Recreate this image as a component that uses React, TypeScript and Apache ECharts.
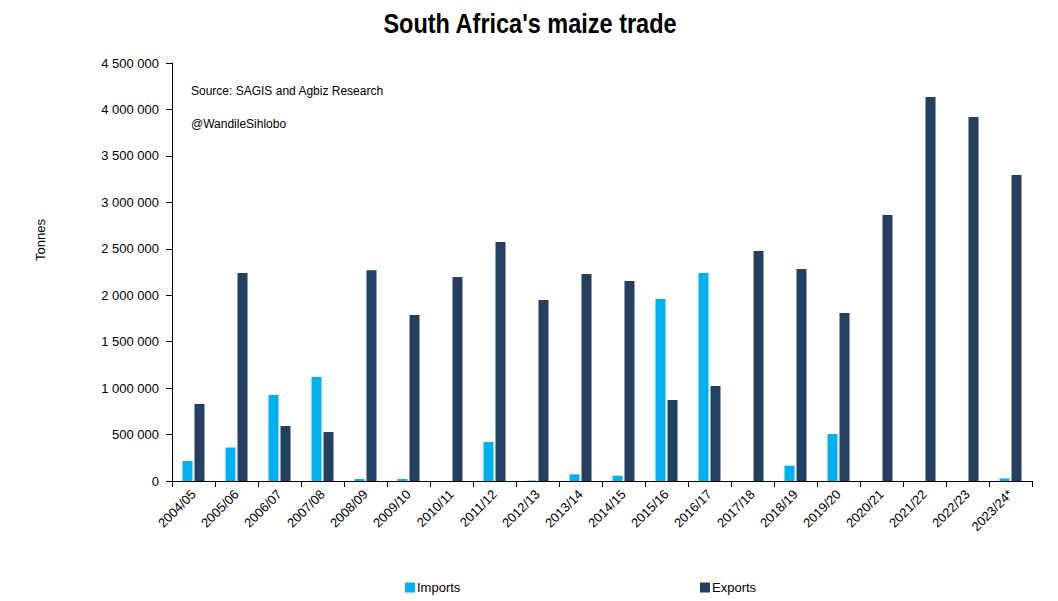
import React, { useEffect, useRef } from "react";
import * as echarts from "echarts";

const categories = [
  "2004/05", "2005/06", "2006/07", "2007/08", "2008/09", "2009/10", "2010/11",
  "2011/12", "2012/13", "2013/14", "2014/15", "2015/16", "2016/17", "2017/18",
  "2018/19", "2019/20", "2020/21", "2021/22", "2022/23", "2023/24*",
];
const imports = [
  215000, 360000, 927000, 1120000, 22000, 22000, 0, 420000, 5000, 72000,
  57000, 1960000, 2240000, 0, 165000, 506000, 0, 0, 0, 28000,
];
const exports_ = [
  830000, 2239000, 592000, 527000, 2270000, 1787000, 2196000, 2573000, 1949000, 2228000,
  2153000, 872000, 1023000, 2476000, 2282000, 1809000, 2864000, 4134000, 3919000, 3294000,
];
const yTicks = { min: 0, max: 4500000, interval: 500000 };

const FONT = "'Liberation Sans', Arial, sans-serif";
const fmt = (v: number) => String(v).replace(/\B(?=(\d{3})+(?!\d))/g, " ");

export default function App() {
  const ref = useRef<HTMLDivElement>(null);
  useEffect(() => {
    if (!ref.current) return;
    const chart = echarts.init(ref.current, undefined, { renderer: "svg" });
    const legendCommon = {
      top: 576,
      itemWidth: 10,
      itemHeight: 10,
      itemGap: 4,
      icon: "rect",
      itemStyle: { borderWidth: 0 },
      textStyle: { fontSize: 13, color: "#000", fontFamily: FONT, padding: [0, 0, 0, -3] },
    };
    chart.setOption({
      animation: false,
      backgroundColor: "#ffffff",
      textStyle: { fontFamily: FONT },
      legend: [
        { ...legendCommon, data: ["Imports"], left: 400 },
        { ...legendCommon, data: ["Exports"], left: 695 },
      ],
      grid: { left: 172, right: 26, top: 63, bottom: 120, containLabel: false },
      xAxis: {
        type: "category",
        data: categories,
        boundaryGap: true,
        axisLine: { lineStyle: { color: "#000", width: 1 } },
        axisTick: { show: true, length: 6, interval: 0, lineStyle: { color: "#000" } },
        axisLabel: { rotate: 45, interval: 0, fontSize: 13, color: "#000", margin: 11, fontFamily: FONT },
      },
      yAxis: {
        type: "value",
        min: yTicks.min,
        max: yTicks.max,
        interval: yTicks.interval,
        splitLine: { show: false },
        axisLine: { show: true, lineStyle: { color: "#000", width: 1 } },
        axisTick: { show: true, length: 6, lineStyle: { color: "#000" } },
        axisLabel: { fontSize: 13, color: "#000", margin: 13, formatter: fmt, fontFamily: FONT },
      },
      graphic: [
        {
          type: "text",
          x: 530,
          y: 23,
          scaleX: 0.87,
          style: {
            text: "South Africa's maize trade",
            font: "bold 27px " + FONT,
            fill: "#000",
            textAlign: "center",
            textVerticalAlign: "middle",
          },
        },
        {
          type: "text",
          x: 40,
          y: 240,
          rotation: Math.PI / 2,
          style: { text: "Tonnes", fill: "#000", font: "13px " + FONT, textAlign: "center", textVerticalAlign: "middle" },
        },
        {
          type: "text",
          left: 191,
          top: 85,
          style: { text: "Source: SAGIS and Agbiz Research", fill: "#000", font: "12px " + FONT },
        },
        {
          type: "text",
          left: 191,
          top: 118,
          style: { text: "@WandileSihlobo", fill: "#000", font: "12px " + FONT },
        },
      ],
      series: [
        {
          name: "Imports",
          type: "bar",
          data: imports,
          barWidth: 10,
          barGap: "20%",
          itemStyle: { color: "#00B0F0" },
        },
        {
          name: "Exports",
          type: "bar",
          data: exports_,
          barWidth: 10,
          barGap: "20%",
          itemStyle: { color: "#243F60" },
        },
      ],
    });
    return () => chart.dispose();
  }, []);
  return <div ref={ref} style={{ width: 1058, height: 601, position: "absolute", left: 0, top: 0 }} />;
}
